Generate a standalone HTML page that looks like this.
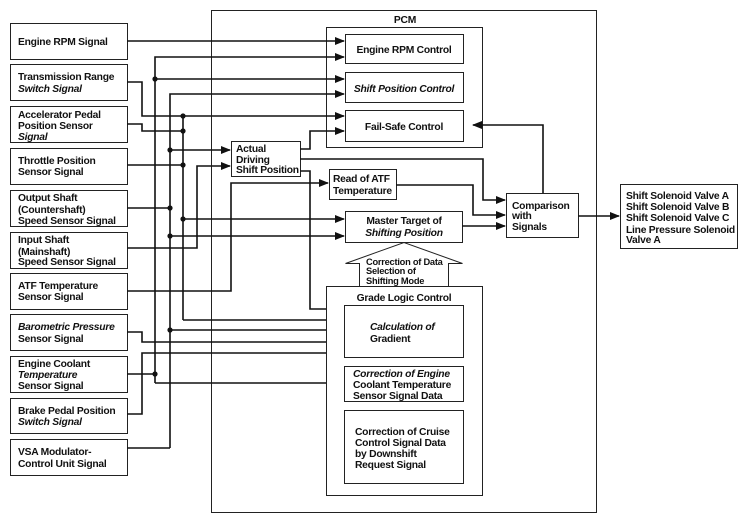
<!DOCTYPE html>
<html><head><style>
html,body{margin:0;padding:0;background:#fff}
svg{display:block}
text{font-family:"Liberation Sans",Arial,sans-serif;font-weight:bold;font-size:10.3px;letter-spacing:-0.25px;fill:#111}
.i{font-style:italic}
</style></head><body>
<svg width="747" height="522" viewBox="0 0 747 522" xmlns="http://www.w3.org/2000/svg">
<defs><marker id="a" markerWidth="10" markerHeight="8" refX="9" refY="4" orient="auto" markerUnits="userSpaceOnUse"><path d="M0,0 L10,4 L0,8 z" fill="#111"/></marker></defs>
<g fill="none" stroke="#222" stroke-width="1">
<rect x="10.5" y="23.5" width="117" height="36"/>
<rect x="10.5" y="64.5" width="117" height="36"/>
<rect x="10.5" y="106.5" width="117" height="36"/>
<rect x="10.5" y="148.5" width="117" height="36"/>
<rect x="10.5" y="190.5" width="117" height="36"/>
<rect x="10.5" y="232.5" width="117" height="36"/>
<rect x="10.5" y="273.5" width="117" height="36"/>
<rect x="10.5" y="314.5" width="117" height="36"/>
<rect x="10.5" y="356.5" width="117" height="36"/>
<rect x="10.5" y="398.5" width="117" height="35"/>
<rect x="10.5" y="439.5" width="117" height="36"/>
<rect x="211.5" y="10.5" width="385" height="502"/>
<rect x="326.5" y="27.5" width="156" height="120"/>
<rect x="345.5" y="34.5" width="118" height="29"/>
<rect x="345.5" y="72.5" width="118" height="30"/>
<rect x="345.5" y="110.5" width="118" height="31"/>
<rect x="231.5" y="141.5" width="69" height="35"/>
<rect x="329.5" y="169.5" width="67" height="30"/>
<rect x="345.5" y="211.5" width="117" height="31"/>
<rect x="506.5" y="193.5" width="72" height="44"/>
<rect x="620.5" y="184.5" width="117" height="64"/>
<rect x="326.5" y="286.5" width="156" height="209"/>
<rect x="344.5" y="305.5" width="119" height="52"/>
<rect x="344.5" y="366.5" width="119" height="35"/>
<rect x="344.5" y="410.5" width="119" height="73"/>
<path d="M359.5,286 V263.5 H345.5 L404,242.5 L462.5,263.5 H448.5 V286" fill="#fff"/>
</g>
<g fill="none" stroke="#111" stroke-width="1.6">
<path d="M127,41 H344" marker-end="url(#a)"/>
<path d="M155,383 V57 H344" marker-end="url(#a)"/>
<path d="M155,79 H344" marker-end="url(#a)"/>
<path d="M170,448 V94 H344" marker-end="url(#a)"/>
<path d="M127,82 H142 V116 H344" marker-end="url(#a)"/>
<path d="M127,124 H142 V131 H183"/>
<path d="M183,320 V116"/>
<path d="M127,165 H183"/>
<path d="M170,150 H230" marker-end="url(#a)"/>
<path d="M127,248 H197 V166 H230" marker-end="url(#a)"/>
<path d="M127,208 H170"/>
<path d="M183,219 H344" marker-end="url(#a)"/>
<path d="M170,236 H344" marker-end="url(#a)"/>
<path d="M127,291 H231 V183 H328" marker-end="url(#a)"/>
<path d="M183,320 H326"/>
<path d="M170,330 H326"/>
<path d="M127,332 H142 V342 H326"/>
<path d="M127,414 H142 V353 H326"/>
<path d="M127,374 H155"/>
<path d="M155,383 H326"/>
<path d="M127,448 H170"/>
<path d="M300,149 H310 V131 H344" marker-end="url(#a)"/>
<path d="M300,159 H483 V200 H505" marker-end="url(#a)"/>
<path d="M300,171 H310 V309 H326"/>
<path d="M396,185 H473 V215 H505" marker-end="url(#a)"/>
<path d="M462,226 H505" marker-end="url(#a)"/>
<path d="M543,193 V125 H473" marker-end="url(#a)"/>
<path d="M578,216 H619" marker-end="url(#a)"/>
</g>
<g fill="#111">
<circle cx="155" cy="79" r="2.6"/><circle cx="155" cy="374" r="2.6"/>
<circle cx="183" cy="116" r="2.6"/><circle cx="183" cy="131" r="2.6"/><circle cx="183" cy="165" r="2.6"/><circle cx="183" cy="219" r="2.6"/>
<circle cx="170" cy="150" r="2.6"/><circle cx="170" cy="208" r="2.6"/><circle cx="170" cy="236" r="2.6"/><circle cx="170" cy="330" r="2.6"/>
</g>
<g>
<text x="18" y="45">Engine RPM Signal</text>
<text x="18" y="80">Transmission Range</text><text x="18" y="92" class="i">Switch Signal</text>
<text x="18" y="118">Accelerator Pedal</text><text x="18" y="129">Position Sensor</text><text x="18" y="140" class="i">Signal</text>
<text x="18" y="164">Throttle Position</text><text x="18" y="175">Sensor Signal</text>
<text x="18" y="201">Output Shaft</text><text x="18" y="213">(Countershaft)</text><text x="18" y="224">Speed Sensor Signal</text>
<text x="18" y="243">Input Shaft</text><text x="18" y="255">(Mainshaft)</text><text x="18" y="265">Speed Sensor Signal</text>
<text x="18" y="289">ATF Temperature</text><text x="18" y="300">Sensor Signal</text>
<text x="18" y="330" class="i">Barometric Pressure</text><text x="18" y="342">Sensor Signal</text>
<text x="18" y="367">Engine Coolant</text><text x="18" y="378" class="i">Temperature</text><text x="18" y="389">Sensor Signal</text>
<text x="18" y="414">Brake Pedal Position</text><text x="18" y="425" class="i">Switch Signal</text>
<text x="18" y="455">VSA Modulator-</text><text x="18" y="467">Control Unit Signal</text>
<text x="405" y="23" text-anchor="middle">PCM</text>
<text x="404" y="53" text-anchor="middle">Engine RPM Control</text>
<text x="404" y="92" text-anchor="middle" class="i">Shift Position Control</text>
<text x="404" y="130" text-anchor="middle">Fail-Safe Control</text>
<text x="236" y="152">Actual</text><text x="236" y="163">Driving</text><text x="236" y="173">Shift Position</text>
<text x="333" y="182">Read of ATF</text><text x="333" y="194">Temperature</text>
<text x="404" y="224" text-anchor="middle">Master Target of</text><text x="404" y="236" text-anchor="middle" class="i">Shifting Position</text>
<text x="512" y="209">Comparison</text><text x="512" y="219">with</text><text x="512" y="230">Signals</text>
<text x="626" y="199">Shift Solenoid Valve A</text><text x="626" y="210">Shift Solenoid Valve B</text><text x="626" y="221">Shift Solenoid Valve C</text><text x="626" y="233">Line Pressure Solenoid</text><text x="626" y="243">Valve A</text>
<text x="366" y="265" style="font-size:9.3px">Correction of Data</text><text x="366" y="274" style="font-size:9.3px">Selection of</text><text x="366" y="284" style="font-size:9.3px">Shifting Mode</text>
<text x="404" y="301" text-anchor="middle">Grade Logic Control</text>
<text x="370" y="330" class="i">Calculation of</text><text x="370" y="342">Gradient</text>
<text x="353" y="377" class="i">Correction of Engine</text><text x="353" y="388">Coolant Temperature</text><text x="353" y="399">Sensor Signal Data</text>
<text x="355" y="435">Correction of Cruise</text><text x="355" y="446">Control Signal Data</text><text x="355" y="457">by Downshift</text><text x="355" y="468">Request Signal</text>
</g>
</svg>
</body></html>
